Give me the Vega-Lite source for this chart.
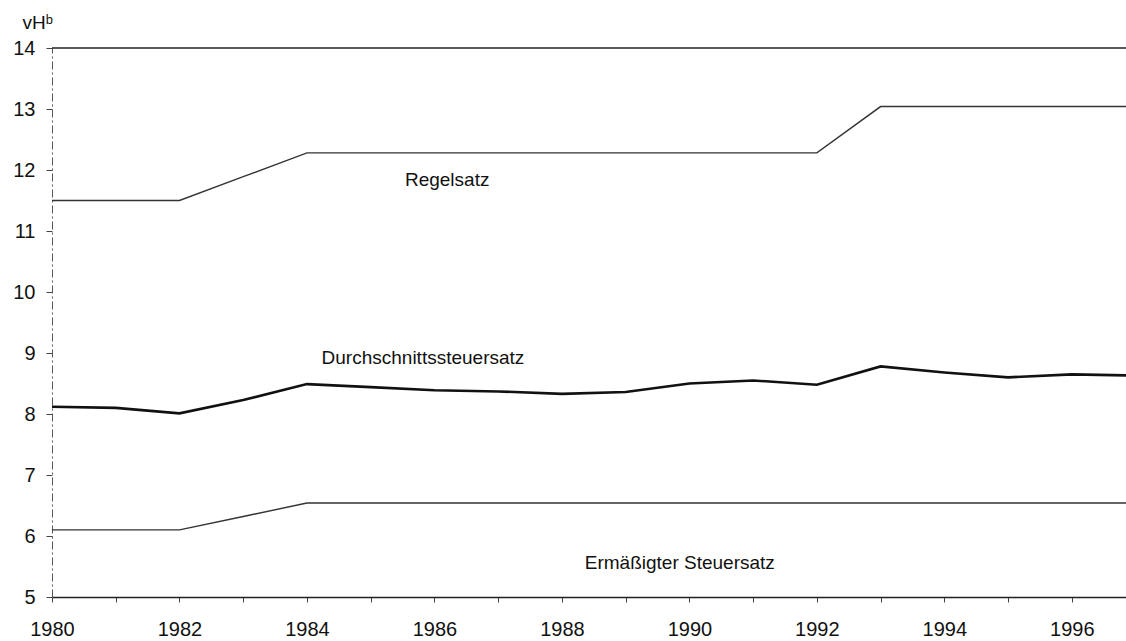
{
  "$schema": "https://vega.github.io/schema/vega-lite/v6.json",
  "width": 1074,
  "height": 549,
  "autosize": {"type": "none"},
  "padding": {"left": 52, "top": 48, "right": 0, "bottom": 44},
  "background": "white",
  "config": {
    "view": {"stroke": null},
    "font": "Liberation Sans",
    "axis": {"labelFont": "Liberation Sans", "labelColor": "#111", "labelFontSize": 20, "grid": false, "domainColor": "#222", "tickColor": "#444"}
  },
  "datasets": {
    "rates": [
      {"Jahr": 1980, "Reihe": "Regelsatz", "vH": 11.5},
      {"Jahr": 1981, "Reihe": "Regelsatz", "vH": 11.5},
      {"Jahr": 1982, "Reihe": "Regelsatz", "vH": 11.5},
      {"Jahr": 1983, "Reihe": "Regelsatz", "vH": 11.89},
      {"Jahr": 1984, "Reihe": "Regelsatz", "vH": 12.28},
      {"Jahr": 1985, "Reihe": "Regelsatz", "vH": 12.28},
      {"Jahr": 1986, "Reihe": "Regelsatz", "vH": 12.28},
      {"Jahr": 1987, "Reihe": "Regelsatz", "vH": 12.28},
      {"Jahr": 1988, "Reihe": "Regelsatz", "vH": 12.28},
      {"Jahr": 1989, "Reihe": "Regelsatz", "vH": 12.28},
      {"Jahr": 1990, "Reihe": "Regelsatz", "vH": 12.28},
      {"Jahr": 1991, "Reihe": "Regelsatz", "vH": 12.28},
      {"Jahr": 1992, "Reihe": "Regelsatz", "vH": 12.28},
      {"Jahr": 1993, "Reihe": "Regelsatz", "vH": 13.04},
      {"Jahr": 1994, "Reihe": "Regelsatz", "vH": 13.04},
      {"Jahr": 1995, "Reihe": "Regelsatz", "vH": 13.04},
      {"Jahr": 1996, "Reihe": "Regelsatz", "vH": 13.04},
      {"Jahr": 1997, "Reihe": "Regelsatz", "vH": 13.04},
      {"Jahr": 1980, "Reihe": "Ermäßigt", "vH": 6.1},
      {"Jahr": 1981, "Reihe": "Ermäßigt", "vH": 6.1},
      {"Jahr": 1982, "Reihe": "Ermäßigt", "vH": 6.1},
      {"Jahr": 1983, "Reihe": "Ermäßigt", "vH": 6.32},
      {"Jahr": 1984, "Reihe": "Ermäßigt", "vH": 6.54},
      {"Jahr": 1985, "Reihe": "Ermäßigt", "vH": 6.54},
      {"Jahr": 1986, "Reihe": "Ermäßigt", "vH": 6.54},
      {"Jahr": 1987, "Reihe": "Ermäßigt", "vH": 6.54},
      {"Jahr": 1988, "Reihe": "Ermäßigt", "vH": 6.54},
      {"Jahr": 1989, "Reihe": "Ermäßigt", "vH": 6.54},
      {"Jahr": 1990, "Reihe": "Ermäßigt", "vH": 6.54},
      {"Jahr": 1991, "Reihe": "Ermäßigt", "vH": 6.54},
      {"Jahr": 1992, "Reihe": "Ermäßigt", "vH": 6.54},
      {"Jahr": 1993, "Reihe": "Ermäßigt", "vH": 6.54},
      {"Jahr": 1994, "Reihe": "Ermäßigt", "vH": 6.54},
      {"Jahr": 1995, "Reihe": "Ermäßigt", "vH": 6.54},
      {"Jahr": 1996, "Reihe": "Ermäßigt", "vH": 6.54},
      {"Jahr": 1997, "Reihe": "Ermäßigt", "vH": 6.54}
    ],
    "avg": [
      {"Jahr": 1980, "vH": 8.12},
      {"Jahr": 1981, "vH": 8.1},
      {"Jahr": 1982, "vH": 8.01},
      {"Jahr": 1983, "vH": 8.23},
      {"Jahr": 1984, "vH": 8.49},
      {"Jahr": 1985, "vH": 8.44},
      {"Jahr": 1986, "vH": 8.39},
      {"Jahr": 1987, "vH": 8.37},
      {"Jahr": 1988, "vH": 8.33},
      {"Jahr": 1989, "vH": 8.36},
      {"Jahr": 1990, "vH": 8.5},
      {"Jahr": 1991, "vH": 8.55},
      {"Jahr": 1992, "vH": 8.48},
      {"Jahr": 1993, "vH": 8.78},
      {"Jahr": 1994, "vH": 8.68},
      {"Jahr": 1995, "vH": 8.6},
      {"Jahr": 1996, "vH": 8.65},
      {"Jahr": 1997, "vH": 8.63}
    ],
    "labels": [
      {"Jahr": 1986.2, "vH": 11.84, "text": "Regelsatz"},
      {"Jahr": 1985.82, "vH": 8.92, "text": "Durchschnittssteuersatz"},
      {"Jahr": 1989.85, "vH": 5.56, "text": "Ermäßigter Steuersatz"}
    ],
    "top": [{"vH": 14}]
  },
  "layer": [
    {
      "data": {"name": "top"},
      "mark": {"type": "rule", "color": "#222", "strokeWidth": 1.5},
      "encoding": {"y": {"field": "vH", "type": "quantitative"}}
    },
    {
      "data": {"name": "rates"},
      "mark": {"type": "line", "color": "#333", "strokeWidth": 1.4, "clip": true},
      "encoding": {
        "x": {
          "field": "Jahr", "type": "quantitative",
          "scale": {"domain": [1980, 1996.85], "nice": false, "zero": false},
          "axis": {
            "title": null,
            "values": [1980,1981,1982,1983,1984,1985,1986,1987,1988,1989,1990,1991,1992,1993,1994,1995,1996],
            "labelExpr": "datum.value % 2 == 0 ? datum.value : ''",
            "format": "d",
            "tickSize": 5, "tickWidth": 1,
            "labelPadding": 17,
            "domainWidth": 1.6,
            "labelFlush": false, "labelOverlap": false
          }
        },
        "y": {
          "field": "vH", "type": "quantitative",
          "scale": {"domain": [5, 14], "nice": false, "zero": false},
          "axis": {
            "title": "vHᵇ",
            "titleAngle": 0, "titleAlign": "left", "titleBaseline": "alphabetic",
            "titleX": -30, "titleY": -20,
            "titleFont": "Liberation Sans", "titleFontSize": 19, "titleFontWeight": "normal", "titleColor": "#111",
            "values": [5,6,7,8,9,10,11,12,13,14],
            "format": "d",
            "tickSize": 6, "tickWidth": 1,
            "labelPadding": 11,
            "domainDash": [8, 3, 2, 3], "domainColor": "#555", "domainWidth": 1
          }
        },
        "detail": {"field": "Reihe"}
      }
    },
    {
      "data": {"name": "avg"},
      "mark": {"type": "line", "color": "#111", "strokeWidth": 2.6, "clip": true},
      "encoding": {
        "x": {"field": "Jahr", "type": "quantitative"},
        "y": {"field": "vH", "type": "quantitative"}
      }
    },
    {
      "data": {"name": "labels"},
      "mark": {"type": "text", "font": "Liberation Sans", "fontSize": 19, "color": "#111", "align": "center", "baseline": "middle"},
      "encoding": {
        "x": {"field": "Jahr", "type": "quantitative"},
        "y": {"field": "vH", "type": "quantitative"},
        "text": {"field": "text"}
      }
    }
  ]
}
